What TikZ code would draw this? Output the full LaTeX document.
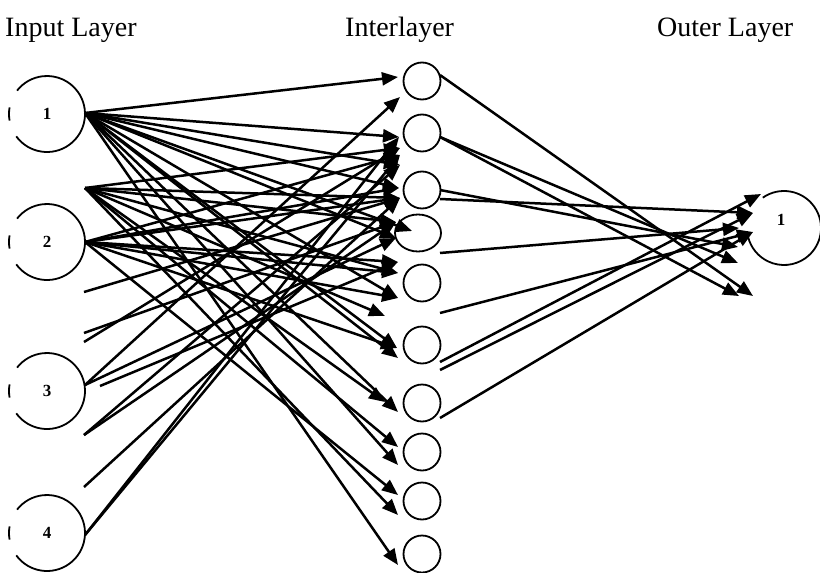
\documentclass[tikz,border=0pt]{standalone}
\usepackage{fontspec}
\setmainfont{Liberation Serif}
\usetikzlibrary{arrows.meta,shapes.geometric}
\begin{document}
\begin{tikzpicture}[x=1pt,y=-1pt,
  conn/.style={line width=2.5pt,-{Triangle[length=16pt,width=13pt]}},
  ring/.style={line width=1.8pt},
  hid/.style={circle,draw,line width=1.8pt,minimum size=37pt,inner sep=0pt},
  num/.style={font=\bfseries\fontsize{17}{17}\selectfont,inner sep=0pt},
  title/.style={font=\fontsize{28}{28}\selectfont,anchor=base west,inner sep=0pt}]
\useasboundingbox (0,0) rectangle (820,573);
% titles
\node[title] (tin) at (5,36) {Input Layer};
\node[title] (tmid) at (345,36) {Interlayer};
\node[title] (tout) at (657,36) {Outer Layer};
% input neurons
\foreach \n/\y in {1/114,2/242,3/391,4/533}{
  \node[num] (i\n) at (47,\y) {\n};
  \draw[ring] (i\n.center) ++(144:38) arc[start angle=144,end angle=-142,radius=38];
  \draw[ring] (i\n.center) ++(170:38) arc[start angle=170,end angle=190,radius=38];
}
% output neuron
\node[num] (o1) at (781,220) {1};
\coordinate (oc) at (784,228);
\draw[ring] (oc) ++(-125:37) arc[start angle=-125,end angle=166,radius=37];
% hidden neurons
\foreach \n/\y in {1/81,2/133,3/190,5/283,6/345,7/403,8/452,9/501,10/554}{
  \node[hid] (h\n) at (422,\y) {};
}
\node[ellipse,draw,line width=1.8pt,minimum width=46pt,minimum height=37pt,inner sep=0pt] (h4) at (418,233) {};
% sources (left)
\coordinate (a1) at (85,113);
\coordinate (a2) at (85,188);
\coordinate (a3) at (85,242);
\coordinate (a4) at (84,292);
\coordinate (a5) at (84,333);
\coordinate (a6) at (84,342);
\coordinate (a7) at (85,385);
\coordinate (a8) at (100,386);
\coordinate (a9) at (84,435);
\coordinate (a10) at (84,487);
\coordinate (a11) at (85,535);
% targets (middle)
\coordinate (b1) at (398,77);
\coordinate (b2) at (400,97);
\coordinate (b3) at (399,137);
\coordinate (b4) at (400,148);
\coordinate (b5) at (400,155);
\coordinate (b6) at (400,165);
\coordinate (b7) at (399,188);
\coordinate (b8) at (400,198);
\coordinate (b9) at (396,222);
\coordinate (b10) at (412,231);
\coordinate (b11) at (396,238);
\coordinate (b12) at (398,262);
\coordinate (b13) at (398,273);
\coordinate (b14) at (398,298);
\coordinate (b15) at (385,316);
\coordinate (b16) at (397,348);
\coordinate (b17) at (398,358);
\coordinate (b18) at (385,402);
\coordinate (b19) at (398,412);
\coordinate (b20) at (398,447);
\coordinate (b21) at (398,465);
\coordinate (b22) at (398,495);
\coordinate (b23) at (398,515);
\coordinate (b24) at (398,565);
\foreach \s/\t in {a1/b1,a1/b3,a1/b6,a1/b7,a1/b10,a1/b11,a1/b14,a1/b16,a1/b17,a1/b19,a1/b21,a1/b24,
                   a2/b4,a2/b8,a2/b9,a2/b13,a2/b15,a2/b18,a2/b20,a2/b23,
                   a3/b5,a3/b7,a3/b8,a3/b12,a3/b13,a3/b14,a3/b16,a3/b22,
                   a4/b8,a5/b9,a6/b4,a7/b2,a7/b11,a8/b12,a9/b9,a9/b6,a10/b8,a11/b3,a11/b5}
  \draw[conn] (\s) -- (\t);
% sources (middle, right side)
\coordinate (c1) at (440,75);
\coordinate (c2) at (440,137);
\coordinate (c3) at (440,190);
\coordinate (c4) at (440,199);
\coordinate (c5) at (440,253);
\coordinate (c6) at (440,313);
\coordinate (c7) at (440,362);
\coordinate (c8) at (440,370);
\coordinate (c9) at (440,418);
% targets (output)
\coordinate (d1) at (761,194);
\coordinate (d2) at (753,213);
\coordinate (d3) at (739,228);
\coordinate (d4) at (753,232);
\coordinate (d5) at (738,247);
\coordinate (d6) at (738,263);
\coordinate (d7) at (739,296);
\coordinate (d8) at (753,296);
\foreach \s/\t in {c1/d8,c2/d6,c2/d7,c3/d5,c4/d2,c5/d3,c6/d4,c7/d1,c8/d2,c9/d4}
  \draw[conn] (\s) -- (\t);
\end{tikzpicture}
\end{document}
